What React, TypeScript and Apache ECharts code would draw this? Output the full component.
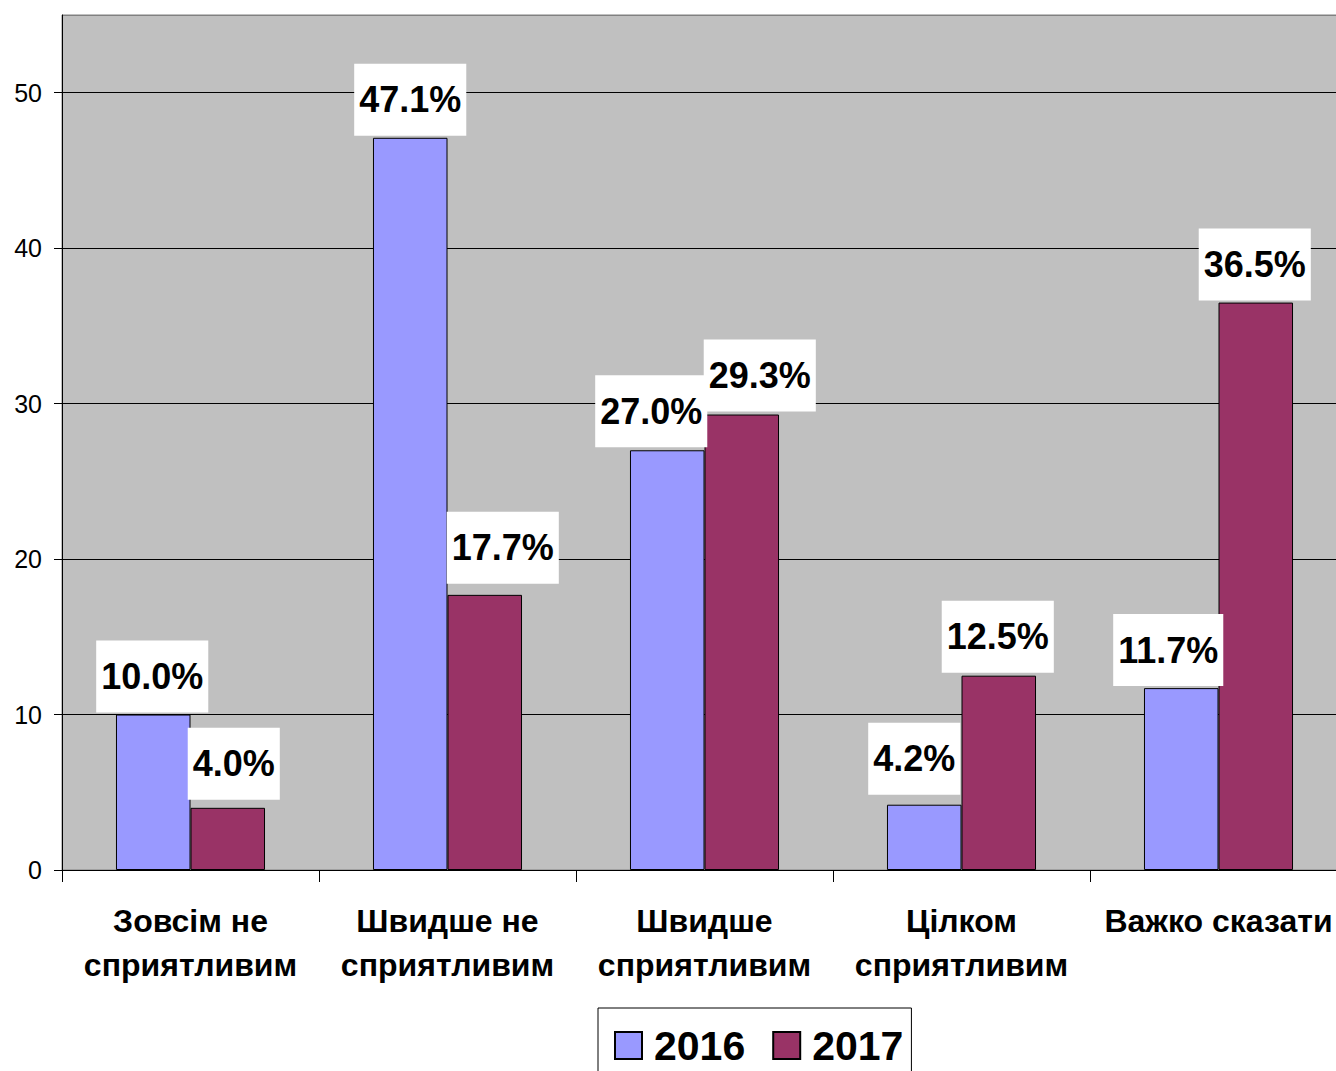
import React, { useEffect, useRef } from "react";
import * as echarts from "echarts";

const categories = [
  "Зовсім не\nсприятливим",
  "Швидше не\nсприятливим",
  "Швидше\nсприятливим",
  "Цілком\nсприятливим",
  "Важко сказати",
];
const values2016 = [10.0, 47.1, 27.0, 4.2, 11.7];
const values2017 = [4.0, 17.7, 29.3, 12.5, 36.5];
const seriesNames = ["2016", "2017"];

// label placement nudges (px) mimicking the original's label layout
const labelShift2016 = [[-1, 0], [0, 0], [-16, -1], [-10, -8], [-13, 0]];
const labelShift2017 = [[6, -6], [18, -9], [18, -1], [-1, -1], [-1, 0]];

const FONT = "'Liberation Sans', Arial, sans-serif";

export default function App() {
  const ref = useRef<HTMLDivElement>(null);
  useEffect(() => {
    if (!ref.current) return;
    const chart = echarts.init(ref.current, undefined, { renderer: "svg" });
    const label = {
      show: true,
      position: "top" as const,
      distance: 2,
      formatter: (p: any) => Number(p.value).toFixed(1) + "%",
      fontFamily: FONT,
      fontSize: 36,
      fontWeight: "bold" as const,
      color: "#000",
      backgroundColor: "#fff",
      lineHeight: 40,
      padding: [16, 5, 16, 5],
    };
    const withShift = (vals: number[], shifts: number[][]) =>
      vals.map((v, i) => ({ value: v, label: { offset: shifts[i] } }));
    chart.setOption({
      animation: false,
      backgroundColor: "#fff",
      textStyle: { fontFamily: FONT },
      grid: {
        left: 62,
        right: 0,
        top: 15,
        bottom: 201,
        show: true,
        backgroundColor: "#C0C0C0",
        borderColor: "#808080",
        borderWidth: 1,
      },
      legend: {
        left: 598,
        top: 1008,
        orient: "horizontal",
        backgroundColor: "#fff",
        borderColor: "#000",
        borderWidth: 1,
        borderRadius: 0,
        padding: [17, 8, 14, 16],
        itemWidth: 27,
        itemHeight: 27,
        itemGap: 27,
        icon: "rect",
        textStyle: {
          fontFamily: FONT,
          fontSize: 41,
          fontWeight: "bold",
          color: "#000",
          padding: [0, 0, 0, 7],
        },
        data: seriesNames,
      },
      xAxis: {
        type: "category",
        data: categories,
        axisLine: { show: true, lineStyle: { color: "#000", width: 1 } },
        axisTick: { show: true, alignWithLabel: false, length: 12, lineStyle: { color: "#000" } },
        axisLabel: {
          interval: 0,
          margin: 29,
          fontFamily: FONT,
          fontSize: 32,
          fontWeight: "bold",
          color: "#000",
          lineHeight: 44,
        },
        splitLine: { show: false },
      },
      yAxis: {
        type: "value",
        min: 0,
        max: 55,
        interval: 10,
        axisLine: { show: true, lineStyle: { color: "#000", width: 1 } },
        axisTick: { show: true, length: 8, lineStyle: { color: "#000" } },
        axisLabel: {
          margin: 20,
          fontFamily: FONT,
          fontSize: 25,
          color: "#000",
          showMaxLabel: false,
          formatter: (v: number) => (v % 10 === 0 ? String(v) : ""),
        },
        splitLine: {
          show: true,
          lineStyle: {
            color: ["#000", "#000", "#000", "#000", "#000", "#000", "#808080"],
            width: 1,
          },
        },
      },
      series: [
        {
          name: seriesNames[0],
          type: "bar",
          data: withShift(values2016, labelShift2016),
          barGap: "0%",
          barCategoryGap: "42%",
          itemStyle: { color: "#9999FF", borderColor: "#000", borderWidth: 1 },
          label,
        },
        {
          name: seriesNames[1],
          type: "bar",
          data: withShift(values2017, labelShift2017),
          barGap: "0%",
          barCategoryGap: "42%",
          itemStyle: { color: "#993366", borderColor: "#000", borderWidth: 1 },
          label,
        },
      ],
    });
    return () => chart.dispose();
  }, []);
  return (
    <div style={{ position: "absolute", left: 0, top: 0, width: 1336, height: 1071, overflow: "hidden" }}>
      <div ref={ref} style={{ width: 1347, height: 1071 }} />
    </div>
  );
}
